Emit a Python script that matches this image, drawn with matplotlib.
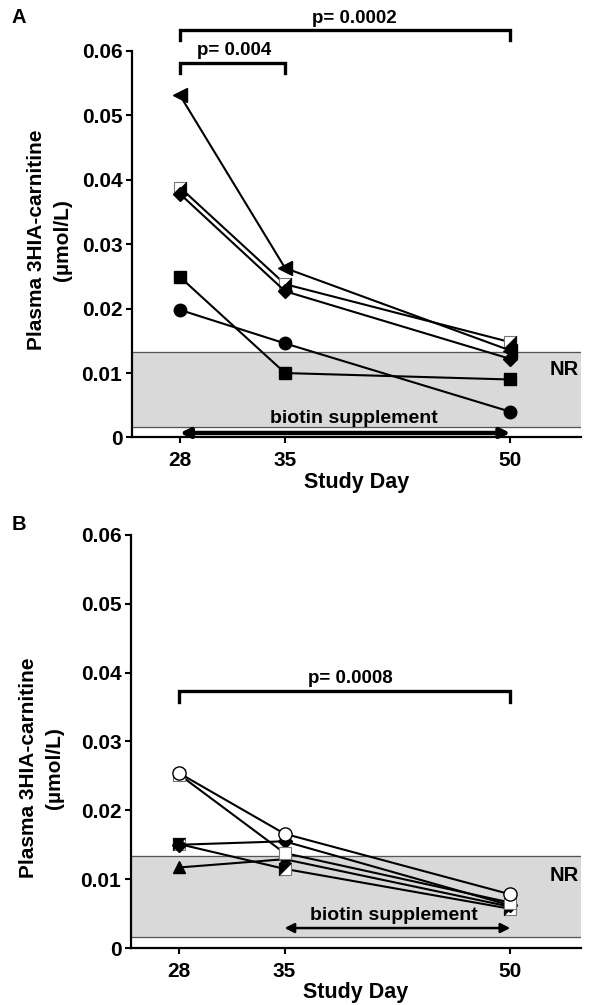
import numpy as np
import matplotlib
matplotlib.use("Agg")
import matplotlib.pyplot as plt
from matplotlib.path import Path

plt.rcParams['font.family'] = ['Liberation Sans', 'DejaVu Sans']
plt.rcParams['font.weight'] = 'bold'

days = [28, 35, 50]

# panel A series
a_tri = [0.0531, 0.0263, 0.0135]
a_half = [0.0388, 0.0238, 0.0148]
a_diam = [0.0378, 0.0227, 0.0122]
a_sq = [0.0249, 0.0100, 0.0090]
a_circ = [0.0198, 0.0146, 0.0040]

# panel B series
b_circ = [0.0254, 0.0166, 0.0078]
b_sq = [0.0252, 0.0138, 0.0066]
b_half = [0.0151, 0.0115, 0.0057]
b_diam = [0.0150, 0.0155, 0.0062]
b_tri = [0.0117, 0.0129, 0.0060]

nr_low, nr_high = 0.0016, 0.0133
yticks = [0, 0.01, 0.02, 0.03, 0.04, 0.05, 0.06]
ytick_labels = ['0', '0.01', '0.02', '0.03', '0.04', '0.05', '0.06']

lr_tri = Path([(1, -1), (1, 1), (-1, -1), (1, -1)], [1, 2, 2, 79])
ul_tri = Path([(-1, 1), (-1, -1), (1, 1), (-1, 1)], [1, 2, 2, 79])

fig = plt.figure(figsize=(5.89, 10.05), dpi=100)
axA = fig.add_axes([0.2241, 0.5647, 0.762, 0.3846])
axB = fig.add_axes([0.2224, 0.0567, 0.764, 0.4110])

lw = 1.5
ms = 9


def style(ax):
    ax.set_xlim(24.8, 54.7)
    ax.set_ylim(0, 0.06)
    ax.spines['top'].set_visible(False)
    ax.spines['right'].set_visible(False)
    ax.spines['left'].set_linewidth(1.6)
    ax.spines['bottom'].set_linewidth(1.6)
    ax.set_yticks(yticks)
    ax.set_yticklabels(ytick_labels)
    ax.set_xticks(days)
    ax.tick_params(labelsize=15, width=1.5, length=4, pad=3)
    ax.tick_params(axis='x', pad=6)
    for t in ax.get_xticklabels() + ax.get_yticklabels():
        t.set_fontweight('bold')
    ax.set_xlabel('Study Day', fontsize=15.5, fontweight='bold', labelpad=1)
    ax.axhspan(nr_low, nr_high, color='#d9d9d9', zorder=0)
    ax.axhline(nr_low, color='#555555', lw=0.9, zorder=0.5)
    ax.axhline(nr_high, color='#555555', lw=0.9, zorder=0.5)
    ax.text(53.6, 0.0105, 'NR', fontsize=14.5, fontweight='bold', ha='center', va='center')


def bracket(ax, x0, x1, y, drop, label, tx):
    ax.plot([x0, x0, x1, x1], [y - drop, y, y, y - drop], color='black', lw=2.4,
            clip_on=False, solid_joinstyle='miter')
    ax.text(tx, y + 0.0005, label, fontsize=13.5, fontweight='bold',
            ha='center', va='bottom', clip_on=False)


# ---- panel A
style(axA)
axA.plot(days, a_circ, color='black', lw=lw, marker='o', ms=ms, mfc='black', mec='black')
axA.plot(days, a_sq, color='black', lw=lw, marker='s', ms=ms, mfc='black', mec='black')
axA.plot(days, a_half, color='black', lw=lw, marker='s', ms=ms, mfc='white', mec='#777777', mew=0.8)
axA.plot(days, a_half, ls='none', marker=lr_tri, ms=ms, mfc='black', mec='black', mew=0.5)
axA.plot(days, a_diam, color='black', lw=lw, marker='D', ms=ms - 1.5, mfc='black', mec='black')
axA.plot(days, a_tri, color='black', lw=lw, marker='<', ms=ms + 1, mfc='black', mec='black')

axA.annotate('', xy=(28, 0.0007), xytext=(50, 0.0007),
             arrowprops=dict(arrowstyle='<|-|>', color='black', lw=3.2,
                             mutation_scale=14, shrinkA=0, shrinkB=0))
axA.plot([28.9, 49.1], [0.0007, 0.0007], color='white', lw=1.2)
axA.text(39.6, 0.0029, 'biotin supplement', fontsize=14, fontweight='bold',
         ha='center', va='center')
bracket(axA, 28, 35, 0.0582, 0.0016, 'p= 0.004', 31.6)
bracket(axA, 28, 50, 0.0632, 0.0015, 'p= 0.0002', 39.6)
fig.text(0.02, 0.992, 'A', fontsize=14.5, fontweight='bold', va='top')
fig.text(49.5 / 589, 1 - 240 / 1005, 'Plasma 3HIA-carnitine\n(µmol/L)', fontsize=15,
         fontweight='bold', rotation=90, ha='center', va='center', multialignment='center',
         linespacing=1.5)

# ---- panel B
style(axB)
axB.plot(days, b_tri, color='black', lw=lw, marker='^', ms=ms, mfc='black', mec='black')
axB.plot(days, b_half, color='black', lw=lw, marker='s', ms=ms, mfc='white', mec='#777777', mew=0.8)
axB.plot(days, b_half, ls='none', marker=ul_tri, ms=ms, mfc='black', mec='black', mew=0.5)
axB.plot(days, b_diam, color='black', lw=lw, marker='D', ms=ms - 2, mfc='black', mec='black')
axB.plot(days, b_sq, color='black', lw=lw, marker='s', ms=ms, mfc='white', mec='#777777', mew=0.8)
axB.plot(days, b_circ, color='black', lw=lw, marker='o', ms=ms + 0.5, mfc='white', mec='black', mew=1)

axB.annotate('', xy=(35, 0.0029), xytext=(50, 0.0029),
             arrowprops=dict(arrowstyle='<|-|>', color='black', lw=1.8,
                             mutation_scale=14, shrinkA=0, shrinkB=0))
axB.text(42.3, 0.0047, 'biotin supplement', fontsize=14, fontweight='bold',
         ha='center', va='center')
bracket(axB, 28, 50, 0.0374, 0.0016, 'p= 0.0008', 39.4)
fig.text(0.02, 0.488, 'B', fontsize=14.5, fontweight='bold', va='top')
fig.text(41.5 / 589, 1 - 768 / 1005, 'Plasma 3HIA-carnitine\n(µmol/L)', fontsize=15,
         fontweight='bold', rotation=90, ha='center', va='center', multialignment='center',
         linespacing=1.5)

fig.savefig('out.png', dpi=100)
